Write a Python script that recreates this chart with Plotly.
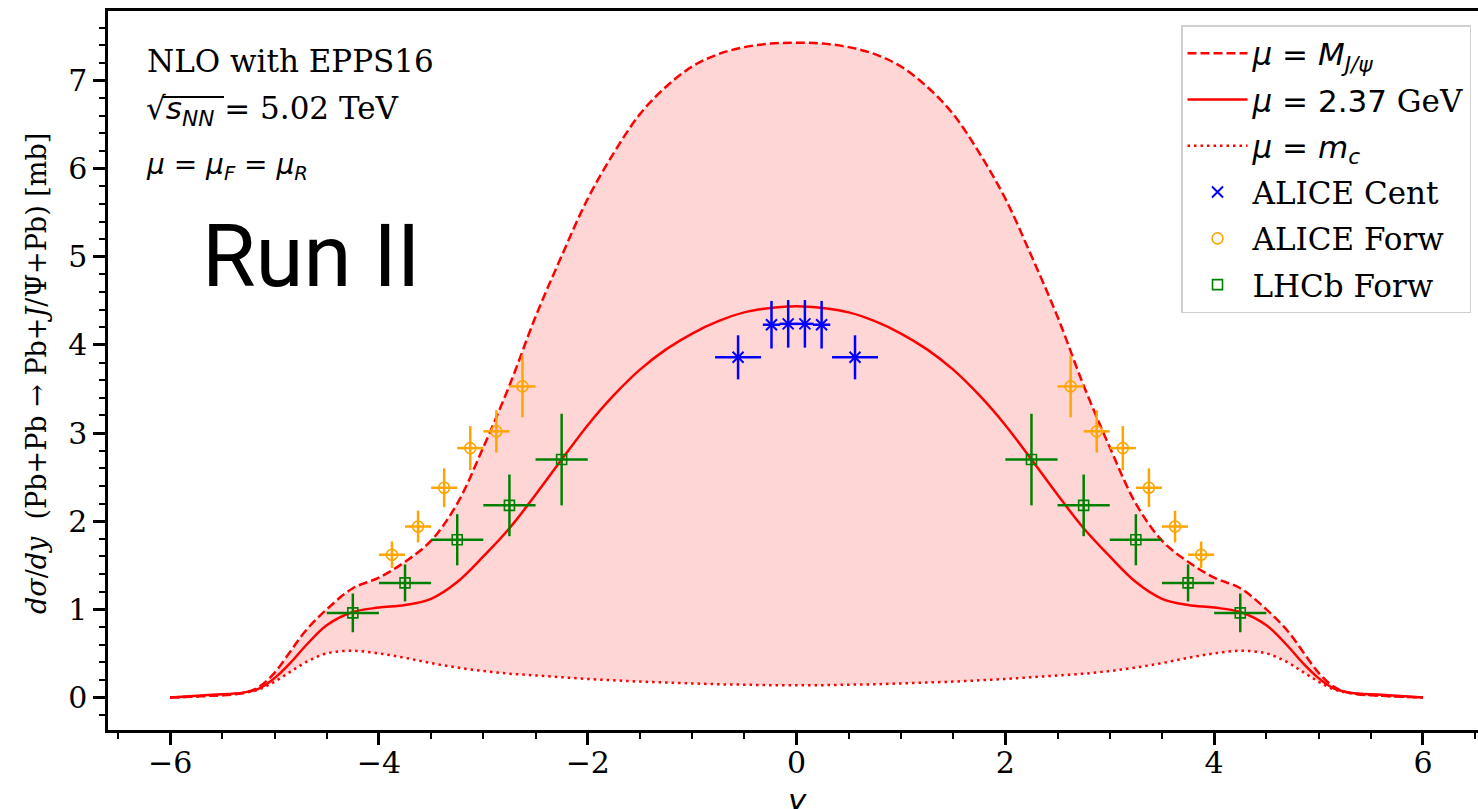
import plotly.graph_objects as go

# ---------------- data ----------------
y_grid = [-6.0, -5.6, -5.3, -5.15, -5.0, -4.85, -4.7, -4.5, -4.25, -4.0, -3.75, -3.5, -3.25,
          -3.0, -2.75, -2.5, -2.25, -2.0, -1.75, -1.5, -1.25, -1.0, -0.75, -0.5, -0.25, 0.0,
          0.25, 0.5, 0.75, 1.0, 1.25, 1.5, 1.75, 2.0, 2.25, 2.5, 2.75, 3.0,
          3.25, 3.5, 3.75, 4.0, 4.25, 4.5, 4.7, 4.85, 5.0, 5.15, 5.3, 5.6, 6.0]

mu_MJpsi = [0.0, 0.02, 0.05, 0.12, 0.28, 0.52, 0.76, 1.00, 1.24, 1.36, 1.54, 1.78, 2.20,
            2.84, 3.54, 4.32, 5.01, 5.66, 6.18, 6.62, 6.93, 7.16, 7.30, 7.38, 7.42, 7.43,
            7.42, 7.38, 7.30, 7.16, 6.93, 6.62, 6.18, 5.66, 5.01, 4.32, 3.54, 2.84,
            2.20, 1.78, 1.54, 1.36, 1.24, 1.00, 0.76, 0.52, 0.28, 0.12, 0.05, 0.02, 0.0]

mu_237 = [0.0, 0.03, 0.055, 0.10, 0.22, 0.39, 0.59, 0.82, 0.97, 1.02, 1.05, 1.12, 1.31,
          1.60, 1.92, 2.30, 2.70, 3.09, 3.43, 3.72, 3.95, 4.13, 4.27, 4.37, 4.42, 4.44,
          4.42, 4.37, 4.27, 4.13, 3.95, 3.72, 3.43, 3.09, 2.70, 2.30, 1.92, 1.60,
          1.31, 1.12, 1.05, 1.02, 0.97, 0.82, 0.59, 0.39, 0.22, 0.10, 0.055, 0.03, 0.0]

mu_mc = [0.0, 0.02, 0.05, 0.09, 0.18, 0.29, 0.40, 0.50, 0.53, 0.50, 0.45, 0.39, 0.34,
         0.30, 0.27, 0.25, 0.23, 0.21, 0.195, 0.18, 0.17, 0.16, 0.15, 0.145, 0.14, 0.14,
         0.14, 0.145, 0.15, 0.16, 0.17, 0.18, 0.195, 0.21, 0.23, 0.25, 0.27, 0.30,
         0.34, 0.39, 0.45, 0.50, 0.53, 0.50, 0.40, 0.29, 0.18, 0.09, 0.05, 0.02, 0.0]

alice_cent_y = [-0.56, -0.24, -0.08, 0.08, 0.24, 0.56]
alice_cent_v = [3.86, 4.23, 4.24, 4.24, 4.23, 3.86]
alice_cent_xerr = [0.22, 0.083, 0.083, 0.083, 0.083, 0.22]
alice_cent_yerr = [0.25, 0.27, 0.27, 0.27, 0.27, 0.25]

alice_forw_y = [-3.875, -3.625, -3.375, -3.125, -2.875, -2.625,
                2.625, 2.875, 3.125, 3.375, 3.625, 3.875]
alice_forw_v = [1.62, 1.94, 2.38, 2.83, 3.02, 3.53,
                3.53, 3.02, 2.83, 2.38, 1.94, 1.62]
alice_forw_xerr = [0.125] * 12
alice_forw_yerr = [0.15, 0.18, 0.22, 0.25, 0.24, 0.35,
                   0.35, 0.24, 0.25, 0.22, 0.18, 0.15]

lhcb_y = [-4.25, -3.75, -3.25, -2.75, -2.25, 2.25, 2.75, 3.25, 3.75, 4.25]
lhcb_v = [0.96, 1.30, 1.79, 2.18, 2.70, 2.70, 2.18, 1.79, 1.30, 0.96]
lhcb_xerr = [0.25] * 10
lhcb_yerr = [0.22, 0.21, 0.29, 0.35, 0.52, 0.52, 0.35, 0.29, 0.21, 0.22]

x_ticks = [-6, -4, -2, 0, 2, 4, 6]
x_ticktext = ["−6", "−4", "−2", "0", "2", "4", "6"]
y_ticks = [0, 1, 2, 3, 4, 5, 6, 7]

# ---------------- layout geometry ----------------
W, H = 1478, 809
L, R, T, B = 108, 1478, 11, 730
SERIF = "DejaVu Serif"
SANS = "DejaVu Sans"
FS = 31


def px(xp):
    return (xp - L) / (R - L)


def py(yp):
    return (B - yp) / (B - T)


fig = go.Figure()

# shaded band between mu = m_c and mu = M_J/psi
fig.add_trace(go.Scatter(x=y_grid, y=mu_mc, mode="lines",
                         line=dict(width=0, color="rgba(0,0,0,0)", shape="spline"),
                         showlegend=False, hoverinfo="skip"))
fig.add_trace(go.Scatter(x=y_grid, y=mu_MJpsi, mode="lines", fill="tonexty",
                         fillcolor="rgba(255,0,0,0.16)",
                         line=dict(width=0, color="rgba(0,0,0,0)", shape="spline"),
                         showlegend=False, hoverinfo="skip"))

fig.add_trace(go.Scatter(x=y_grid, y=mu_MJpsi, mode="lines",
                         line=dict(color="red", width=2.5, dash="9px,4px", shape="spline"),
                         name='<span style="font-family:DejaVu Sans"><i>μ</i> = <i>M</i><sub><i>J/ψ</i></sub></span>',
                         legendgroup="a", legendrank=1))
fig.add_trace(go.Scatter(x=y_grid, y=mu_237, mode="lines",
                         line=dict(color="red", width=2.5, shape="spline"),
                         name='<span style="font-family:DejaVu Sans"><i>μ</i> = 2.37</span> GeV',
                         legendgroup="b", legendrank=2))
fig.add_trace(go.Scatter(x=y_grid, y=mu_mc, mode="lines",
                         line=dict(color="red", width=2.5, dash="2.5px,4px", shape="spline"),
                         name='<span style="font-family:DejaVu Sans"><i>μ</i> = <i>m</i><sub><i>c</i></sub></span>',
                         legendgroup="c", legendrank=3))

fig.add_trace(go.Scatter(x=alice_cent_y, y=alice_cent_v, mode="markers", name="ALICE Cent",
                         marker=dict(symbol="x-thin-open", size=11, color="blue",
                                     line=dict(color="blue", width=2)),
                         error_x=dict(type="data", array=alice_cent_xerr, color="blue", thickness=2.5, width=0),
                         error_y=dict(type="data", array=alice_cent_yerr, color="blue", thickness=2.5, width=0),
                         legendgroup="d", legendrank=4))
fig.add_trace(go.Scatter(x=alice_forw_y, y=alice_forw_v, mode="markers", name="ALICE Forw",
                         marker=dict(symbol="circle-open", size=11, color="orange",
                                     line=dict(color="orange", width=1.6)),
                         error_x=dict(type="data", array=alice_forw_xerr, color="orange", thickness=2.5, width=0),
                         error_y=dict(type="data", array=alice_forw_yerr, color="orange", thickness=2.5, width=0),
                         legendgroup="e", legendrank=5))
fig.add_trace(go.Scatter(x=lhcb_y, y=lhcb_v, mode="markers", name="LHCb Forw",
                         marker=dict(symbol="square-open", size=10, color="green",
                                     line=dict(color="green", width=1.6)),
                         error_x=dict(type="data", array=lhcb_xerr, color="green", thickness=2.5, width=0),
                         error_y=dict(type="data", array=lhcb_yerr, color="green", thickness=2.5, width=0),
                         legendgroup="f", legendrank=6))

axis_common = dict(showline=True, linecolor="black", linewidth=2.5, ticks="outside", ticklen=12,
                   tickwidth=2.5, tickcolor="black", showgrid=False, zeroline=False,
                   tickfont=dict(family=SERIF, size=30, color="black"))

fig.update_xaxes(range=[-6.595, 6.527], tickvals=x_ticks, ticktext=x_ticktext,
                 mirror=True, ticklabelstandoff=-8,
                 minor=dict(dtick=0.5, tick0=0, ticks="outside", ticklen=6, tickwidth=2, tickcolor="black"),
                 **axis_common)
fig.update_yaxes(range=[-0.369, 7.79], tickvals=y_ticks,
                 minor=dict(dtick=0.2, tick0=0, ticks="outside", ticklen=6, tickwidth=2, tickcolor="black"),
                 **axis_common)

annotations = [
    dict(text="NLO with EPPS16", x=px(145), y=py(61), xanchor="left", yanchor="middle",
         font=dict(family=SERIF, size=FS, color="black")),
    dict(text='<span style="font-family:DejaVu Sans">√<i>s</i><sub><i>NN</i></sub> =</span> 5.02 TeV',
         x=px(144), y=py(110), xanchor="left", yanchor="middle",
         font=dict(family=SERIF, size=FS, color="black")),
    dict(text='<i>μ</i> = <i>μ</i><sub><i>F</i></sub> = <i>μ</i><sub><i>R</i></sub>',
         x=px(144), y=py(166), xanchor="left", yanchor="middle",
         font=dict(family=SANS, size=28, color="black")),
    dict(text="Run II", x=px(200), y=py(256), xanchor="left", yanchor="middle",
         font=dict(family="Roboto", size=87, color="black")),
    dict(text='<i>dσ</i>/<i>dy</i>  (Pb+Pb → Pb+<i>J</i>/Ψ+Pb) [mb]', x=px(36), y=py(374),
         xanchor="center", yanchor="middle", textangle=-90,
         font=dict(family=SERIF, size=27, color="black")),
    dict(text="<i>y</i>", x=px(797), y=py(780), xanchor="center", yanchor="top",
         font=dict(family=SANS, size=FS, color="black")),
]
for a in annotations:
    a.update(xref="paper", yref="paper", showarrow=False)

fig.update_layout(
    width=W, height=H,
    margin=dict(l=L, r=W - R, t=T, b=H - B, pad=0),
    plot_bgcolor="white", paper_bgcolor="white",
    annotations=annotations,
    legend=dict(x=px(1471), y=py(25), xanchor="right", yanchor="top",
                bgcolor="rgba(255,255,255,0.85)", bordercolor="#d0d0d0", borderwidth=1.5,
                font=dict(family=SERIF, size=FS, color="black"),
                traceorder="grouped", tracegroupgap=3, itemwidth=60),
    shapes=[dict(type="line", xref="paper", yref="paper", x0=px(162), x1=px(224), y0=py(97), y1=py(97),
                 line=dict(color="black", width=1.8))],
)

fig.write_html("out.html")
